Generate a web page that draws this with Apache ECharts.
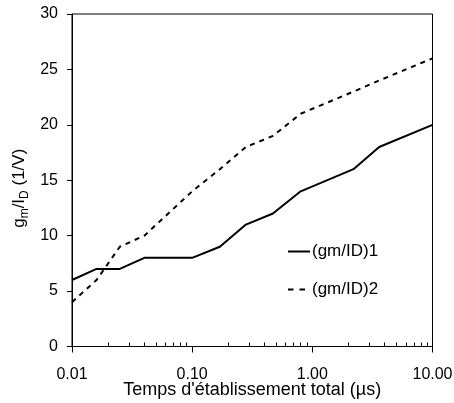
<!DOCTYPE html>
<html><head><meta charset="utf-8">
<script src="https://cdn.jsdelivr.net/npm/echarts@6/dist/echarts.min.js"></script>
<style>html,body{margin:0;padding:0;background:#fff}#c{width:454px;height:403px}</style>
</head><body><div id="c"></div>
<script>
// Data
const times1 = [0.01, 0.016, 0.025, 0.04, 0.1, 0.17, 0.28, 0.47, 0.8, 2.2, 3.6, 10];
const gmId1 = [6, 7, 7, 8, 8, 9, 11, 12, 14, 16, 18, 20];
const times2 = [0.01, 0.016, 0.025, 0.04, 0.1, 0.17, 0.28, 0.47, 0.8, 2.2, 3.6, 10];
const gmId2 = [4, 6, 9, 10, 14, 16, 18, 19, 21, 23, 24, 26];
const seriesNames = ['(gm/ID)1', '(gm/ID)2'];
const xMajorTicks = [0.01, 0.1, 1, 10];
const xMinorTicks = [0.02,0.03,0.04,0.05,0.06,0.07,0.08,0.09,0.2,0.3,0.4,0.5,0.6,0.7,0.8,0.9,2,3,4,5,6,7,8,9];

const font = 'Liberation Sans, Arial, sans-serif';
const chart = echarts.init(document.getElementById('c'));
const pairs = (xs, ys) => xs.map((x, i) => [x, ys[i]]);
chart.setOption({
  animation: false,
  grid: {left: 72, top: 14, width: 360.5, height: 332.5, show: true, borderColor: '#000', borderWidth: 1,
    backgroundColor: 'transparent', outerBoundsMode: 'none', containLabel: false},
  legend: {
    orient: 'vertical', left: 282, top: 238, itemWidth: 22, itemHeight: 14, itemGap: 21,
    itemStyle: {opacity: 0},
    textStyle: {fontFamily: font, fontSize: 17, color: '#000', padding: [0, 0, 0, -3]},
    data: [
      {name: seriesNames[0]},
      {name: seriesNames[1], lineStyle: {type: [5.5, 6], width: 2}}
    ]
  },
  xAxis: [{
    type: 'log', logBase: 10, min: 0.01, max: 10,
    axisLine: {lineStyle: {color: '#000', width: 1}},
    axisTick: {show: true, length: 6, inside: false, lineStyle: {color: '#000'}, customValues: xMajorTicks},
    axisLabel: {fontFamily: font, fontSize: 16, color: '#000', margin: 20, customValues: xMajorTicks,
      formatter: v => Number(v).toFixed(2)},
    splitLine: {show: false},
    name: "Temps d'établissement total (µs)",
    nameLocation: 'middle', nameGap: 35, nameMoveOverlap: false,
    nameTextStyle: {fontFamily: font, fontSize: 18, color: '#000'}
  }, {
    type: 'log', logBase: 10, min: 0.01, max: 10, position: 'bottom',
    axisLine: {show: false},
    axisTick: {show: true, length: 4, inside: true, lineStyle: {color: '#000'}, customValues: xMinorTicks},
    axisLabel: {show: false},
    splitLine: {show: false}
  }],
  yAxis: {
    type: 'value', min: 0, max: 30, interval: 5,
    axisLine: {show: true, lineStyle: {color: '#000', width: 1}},
    axisTick: {show: true, length: 5, inside: false, lineStyle: {color: '#000'}},
    axisLabel: {fontFamily: font, fontSize: 16, color: '#000', margin: 14},
    splitLine: {show: false},
    name: '{a|g}{s|m}{a|/I}{s|D}{a| (1/V)}',
    nameLocation: 'middle', nameGap: 44, nameRotate: 90, nameMoveOverlap: false,
    nameTextStyle: {
      padding: [0, 16, 0, 0],
      rich: {
        a: {fontFamily: font, fontSize: 17, color: '#000', lineHeight: 22, verticalAlign: 'bottom'},
        s: {fontFamily: font, fontSize: 12, color: '#000', lineHeight: 22, verticalAlign: 'bottom', padding: [0, 0, -3, 0]}
      }
    }
  },
  series: [{
    name: seriesNames[0], type: 'line', xAxisIndex: 0, data: pairs(times1, gmId1),
    symbol: 'none', lineStyle: {color: '#000', width: 2, type: 'solid'}, itemStyle: {color: '#000'}
  }, {
    name: seriesNames[1], type: 'line', xAxisIndex: 0, data: pairs(times2, gmId2),
    symbol: 'none', lineStyle: {color: '#000', width: 2, type: [5, 5]}, itemStyle: {color: '#000'}
  }]
});
</script></body></html>
